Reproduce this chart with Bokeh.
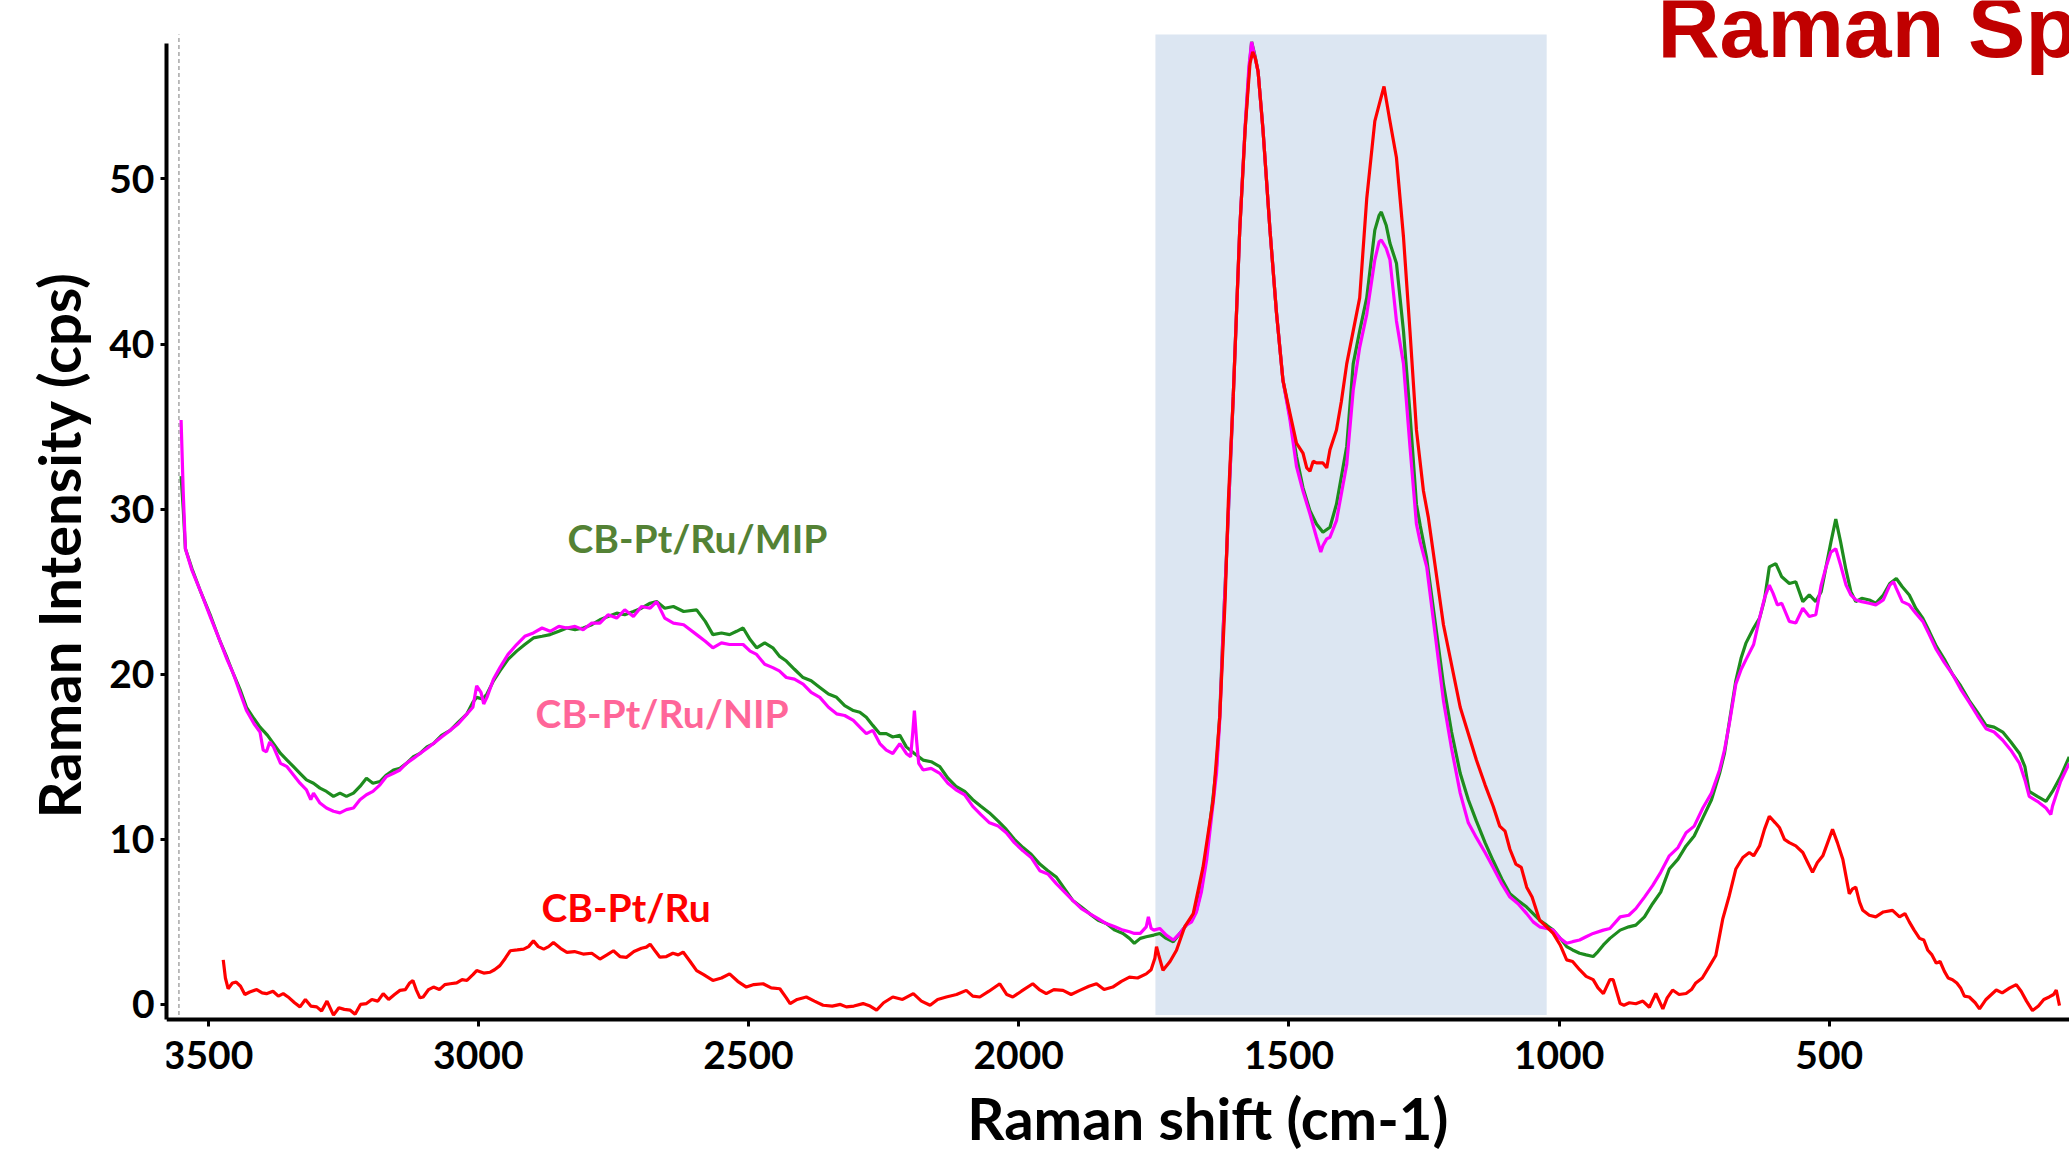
import math
from bokeh.plotting import figure
from bokeh.models import Range1d, FixedTicker, BoxAnnotation, Label, Title
from bokeh.embed import file_html
from bokeh.resources import INLINE

# ---------------- data ----------------
x_ticks = [3500, 3000, 2500, 2000, 1500, 1000, 500]
y_ticks = [0, 10, 20, 30, 40, 50]

series_names = ["CB-Pt/Ru/MIP", "CB-Pt/Ru/NIP", "CB-Pt/Ru"]

mip_points = [
    (3550, 32.0), (3546, 30.0), (3542, 27.6), (3530, 26.4), (3515, 25.1), (3495, 23.5), (3478, 22.0),
    (3465, 21.0), (3453, 20.0), (3440, 19.0), (3429, 18.0), (3415, 17.3), (3404, 16.8), (3390, 16.3),
    (3379, 15.8), (3366, 15.2), (3354, 14.8), (3342, 14.4), (3330, 14.0), (3318, 13.6), (3305, 13.4),
    (3293, 13.1), (3281, 12.9), (3268, 12.6), (3256, 12.8), (3244, 12.6), (3231, 12.8), (3219, 13.2),
    (3207, 13.7), (3195, 13.4), (3182, 13.5), (3170, 13.9), (3157, 14.2), (3145, 14.3), (3133, 14.6),
    (3120, 15.0), (3108, 15.2), (3095, 15.6), (3083, 15.8), (3068, 16.3), (3052, 16.6), (3037, 17.1),
    (3021, 17.6), (3010, 18.3), (3003, 18.6), (2992, 18.5), (2984, 18.8), (2972, 19.6), (2960, 20.2),
    (2945, 20.9), (2929, 21.4), (2914, 21.8), (2898, 22.2), (2882, 22.3), (2867, 22.4), (2851, 22.6),
    (2836, 22.8), (2821, 22.7), (2806, 22.8), (2790, 23.0), (2775, 23.3), (2760, 23.5), (2744, 23.7),
    (2729, 23.6), (2713, 23.8), (2698, 24.0), (2682, 24.3), (2670, 24.4), (2655, 24.0), (2639, 24.1),
    (2620, 23.8), (2596, 23.9), (2580, 23.2), (2566, 22.4), (2550, 22.5), (2535, 22.4), (2522, 22.6),
    (2510, 22.8), (2497, 22.1), (2485, 21.6), (2470, 21.9), (2455, 21.6), (2443, 21.1), (2430, 20.8),
    (2415, 20.3), (2399, 19.8), (2384, 19.6), (2368, 19.2), (2352, 18.8), (2337, 18.6), (2322, 18.1),
    (2306, 17.8), (2294, 17.7), (2282, 17.4), (2270, 16.9), (2257, 16.4), (2245, 16.4), (2233, 16.2),
    (2220, 16.3), (2208, 15.6), (2193, 15.2), (2177, 14.8), (2162, 14.7), (2146, 14.4), (2131, 13.7),
    (2116, 13.2), (2100, 12.9), (2085, 12.4), (2070, 12.0), (2054, 11.6), (2038, 11.1), (2023, 10.6),
    (2008, 10.0), (1992, 9.5), (1977, 9.1), (1961, 8.5), (1946, 8.1), (1930, 7.7), (1915, 7.0),
    (1900, 6.3), (1884, 5.9), (1869, 5.5), (1853, 5.1), (1838, 4.9), (1822, 4.5), (1807, 4.3),
    (1795, 4.0), (1786, 3.7), (1775, 4.0), (1764, 4.1), (1750, 4.2), (1739, 4.3), (1727, 4.0),
    (1714, 3.8), (1702, 4.3), (1690, 4.8), (1680, 5.2), (1671, 5.7), (1662, 7.0), (1652, 9.4),
    (1643, 11.8), (1634, 14.4), (1628, 17.5), (1622, 22.5), (1615, 27.5), (1603, 36.8), (1591, 46.9),
    (1581, 53.0), (1574, 56.5), (1569, 58.3), (1563, 57.5), (1557, 56.5), (1548, 53.0), (1535, 46.9),
    (1523, 41.9), (1511, 37.8), (1498, 35.6), (1486, 33.2), (1474, 31.3), (1461, 29.9), (1449, 29.1),
    (1437, 28.6), (1424, 28.9), (1412, 30.3), (1393, 33.8), (1381, 38.8), (1369, 40.8), (1356, 42.8),
    (1341, 46.9), (1333, 47.8), (1329, 48.0), (1320, 47.2), (1313, 46.1), (1301, 44.9), (1288, 40.8),
    (1276, 35.8), (1264, 30.3), (1257, 29.0), (1245, 27.0), (1214, 19.4), (1199, 16.5), (1183, 14.0),
    (1168, 12.4), (1153, 11.1), (1137, 9.8), (1122, 8.7), (1106, 7.6), (1091, 6.7), (1076, 6.3),
    (1060, 5.9), (1048, 5.5), (1036, 5.1), (1023, 4.8), (1011, 4.5), (998, 4.0), (986, 3.5),
    (975, 3.3), (962, 3.1), (950, 3.0), (937, 2.9), (928, 3.2), (918, 3.6), (906, 4.0), (887, 4.5),
    (871, 4.7), (858, 4.8), (842, 5.3), (827, 6.1), (812, 6.8), (796, 8.2), (780, 8.8), (765, 9.6),
    (750, 10.2), (734, 11.3), (718, 12.4), (703, 14.0), (694, 15.2), (685, 17.1), (673, 19.6),
    (663, 21.0), (654, 21.9), (640, 22.8), (629, 23.4), (620, 24.5), (611, 26.5), (599, 26.7),
    (588, 25.9), (574, 25.5), (562, 25.6), (549, 24.4), (537, 24.8), (525, 24.4), (515, 25.0),
    (506, 26.5), (497, 28.0), (488, 29.4), (479, 28.0), (469, 26.3), (460, 25.0), (451, 24.4),
    (440, 24.6), (426, 24.5), (414, 24.3), (400, 24.8), (388, 25.5), (376, 25.8), (365, 25.3),
    (352, 24.8), (340, 24.0), (327, 23.4), (315, 22.6), (302, 21.7), (287, 20.9), (272, 20.0),
    (257, 19.3), (241, 18.4), (226, 17.7), (210, 16.9), (195, 16.8), (179, 16.5), (164, 15.9),
    (148, 15.2), (138, 14.4), (130, 12.9), (115, 12.6), (99, 12.3), (87, 12.9), (72, 13.8), (56, 15.0),
]

nip_points = [
    (3550, 35.4), (3546, 31.0), (3542, 27.6), (3530, 26.3), (3515, 25.1), (3495, 23.4), (3478, 22.0),
    (3465, 20.9), (3453, 20.0), (3440, 18.8), (3429, 17.8), (3415, 17.0), (3404, 16.5), (3398, 15.4),
    (3392, 15.3), (3386, 15.9), (3379, 15.6), (3366, 14.6), (3354, 14.4), (3342, 13.9), (3330, 13.4),
    (3318, 13.0), (3310, 12.4), (3305, 12.8), (3293, 12.2), (3281, 11.9), (3268, 11.7), (3256, 11.6),
    (3244, 11.8), (3231, 11.9), (3219, 12.4), (3207, 12.7), (3195, 12.9), (3182, 13.3), (3170, 13.8),
    (3157, 14.0), (3145, 14.2), (3133, 14.6), (3120, 14.9), (3108, 15.2), (3095, 15.5), (3083, 15.8),
    (3068, 16.2), (3052, 16.6), (3037, 17.0), (3021, 17.6), (3010, 18.0), (3003, 19.3), (2995, 18.9),
    (2990, 18.2), (2984, 18.6), (2972, 19.7), (2960, 20.4), (2945, 21.2), (2929, 21.8), (2914, 22.3),
    (2898, 22.5), (2882, 22.8), (2867, 22.6), (2851, 22.9), (2836, 22.8), (2821, 22.9), (2806, 22.7),
    (2790, 23.1), (2775, 23.1), (2760, 23.6), (2744, 23.4), (2729, 23.9), (2713, 23.5), (2698, 24.1),
    (2682, 24.0), (2670, 24.4), (2655, 23.4), (2639, 23.1), (2620, 23.0), (2596, 22.4), (2580, 22.0),
    (2566, 21.6), (2550, 21.9), (2535, 21.8), (2522, 21.8), (2510, 21.8), (2497, 21.4), (2485, 21.2),
    (2470, 20.6), (2455, 20.4), (2443, 20.2), (2430, 19.8), (2415, 19.7), (2399, 19.4), (2384, 18.9),
    (2368, 18.6), (2352, 18.0), (2337, 17.6), (2322, 17.5), (2306, 17.2), (2294, 16.8), (2282, 16.4),
    (2270, 16.6), (2257, 15.8), (2245, 15.4), (2233, 15.2), (2220, 15.8), (2208, 15.2), (2200, 15.0),
    (2196, 16.5), (2193, 17.8), (2189, 16.0), (2185, 14.6), (2177, 14.2), (2162, 14.3), (2146, 14.0),
    (2131, 13.4), (2116, 13.0), (2100, 12.7), (2085, 12.0), (2070, 11.5), (2054, 11.0), (2038, 10.8),
    (2023, 10.4), (2008, 9.8), (1992, 9.3), (1977, 8.9), (1961, 8.1), (1946, 7.9), (1930, 7.3),
    (1915, 6.8), (1900, 6.3), (1884, 5.8), (1869, 5.5), (1853, 5.2), (1838, 4.9), (1822, 4.7),
    (1807, 4.5), (1795, 4.4), (1786, 4.3), (1775, 4.3), (1764, 4.7), (1760, 5.3), (1755, 4.6),
    (1750, 4.5), (1739, 4.6), (1727, 4.2), (1714, 3.9), (1702, 4.3), (1690, 4.8), (1680, 5.0),
    (1671, 5.6), (1662, 6.8), (1652, 8.8), (1643, 11.4), (1634, 14.0), (1628, 17.2), (1622, 22.3),
    (1615, 27.5), (1603, 36.8), (1591, 46.9), (1581, 53.2), (1574, 56.8), (1569, 58.3), (1563, 57.4),
    (1557, 56.5), (1548, 53.0), (1535, 46.9), (1523, 41.9), (1511, 37.8), (1498, 35.4), (1486, 32.6),
    (1474, 31.1), (1461, 29.7), (1449, 28.3), (1441, 27.4), (1437, 27.8), (1430, 28.2), (1424, 28.3),
    (1412, 29.3), (1393, 32.7), (1381, 37.2), (1369, 39.8), (1356, 41.8), (1341, 45.1), (1333, 46.2),
    (1329, 46.3), (1320, 45.8), (1313, 45.1), (1301, 41.4), (1288, 38.8), (1276, 33.8), (1264, 29.1),
    (1257, 28.0), (1245, 26.5), (1214, 18.4), (1199, 15.5), (1183, 12.8), (1168, 11.0), (1153, 10.1),
    (1137, 9.2), (1122, 8.3), (1106, 7.3), (1091, 6.5), (1076, 6.1), (1060, 5.5), (1048, 5.0),
    (1036, 4.7), (1023, 4.6), (1011, 4.5), (998, 4.0), (986, 3.7), (975, 3.8), (962, 3.9), (950, 4.1),
    (937, 4.3), (918, 4.5), (906, 4.6), (887, 5.3), (871, 5.4), (858, 5.8), (842, 6.5), (827, 7.2),
    (812, 8.0), (796, 9.0), (780, 9.5), (765, 10.4), (750, 10.8), (734, 11.9), (718, 12.8), (703, 14.2),
    (694, 15.4), (685, 17.0), (673, 19.4), (663, 20.3), (654, 20.9), (640, 21.8), (629, 23.4),
    (620, 24.6), (611, 25.4), (604, 24.9), (596, 24.2), (588, 24.3), (574, 23.2), (562, 23.1),
    (549, 24.0), (537, 23.5), (525, 23.6), (515, 25.4), (506, 26.5), (497, 27.4), (488, 27.6),
    (479, 26.6), (469, 25.4), (460, 24.8), (451, 24.5), (440, 24.4), (426, 24.3), (414, 24.2),
    (400, 24.5), (388, 25.4), (381, 25.6), (376, 25.2), (365, 24.4), (352, 24.2), (340, 23.7),
    (327, 23.2), (315, 22.4), (302, 21.5), (287, 20.7), (272, 20.0), (257, 19.1), (241, 18.3),
    (226, 17.5), (210, 16.7), (195, 16.5), (179, 16.0), (164, 15.4), (148, 14.6), (138, 13.6),
    (130, 12.6), (115, 12.3), (99, 11.9), (90, 11.5), (87, 12.0), (72, 13.5), (56, 14.6),
]

ptru_points = [
    (3472, 2.7), (3468, 1.6), (3463, 0.95), (3455, 1.3), (3448, 1.35), (3440, 1.1), (3432, 0.6),
    (3423, 0.75), (3410, 0.9), (3400, 0.7), (3392, 0.65), (3380, 0.8), (3370, 0.5), (3361, 0.65),
    (3350, 0.4), (3340, 0.1), (3330, -0.15), (3320, 0.3), (3310, -0.1), (3299, -0.15), (3290, -0.4),
    (3280, 0.2), (3268, -0.65), (3258, -0.2), (3248, -0.3), (3237, -0.35), (3228, -0.6), (3218, 0.0),
    (3207, 0.05), (3197, 0.3), (3186, 0.2), (3176, 0.65), (3166, 0.3), (3155, 0.6), (3145, 0.85),
    (3135, 0.9), (3127, 1.3), (3121, 1.45), (3115, 0.9), (3108, 0.4), (3102, 0.45), (3092, 0.9),
    (3083, 1.05), (3072, 0.9), (3062, 1.2), (3052, 1.25), (3040, 1.3), (3030, 1.5), (3021, 1.45),
    (3010, 1.8), (3003, 2.05), (2990, 1.9), (2978, 1.95), (2970, 2.1), (2960, 2.35), (2950, 2.8),
    (2941, 3.25), (2928, 3.3), (2916, 3.35), (2907, 3.5), (2898, 3.85), (2889, 3.5), (2879, 3.35),
    (2870, 3.5), (2861, 3.75), (2848, 3.4), (2836, 3.15), (2822, 3.2), (2806, 3.05), (2790, 3.1),
    (2775, 2.75), (2762, 3.0), (2750, 3.25), (2738, 2.9), (2726, 2.85), (2712, 3.2), (2698, 3.4),
    (2689, 3.47), (2682, 3.65), (2672, 3.2), (2664, 2.86), (2652, 2.9), (2640, 3.1), (2630, 3.0),
    (2621, 3.17), (2608, 2.6), (2596, 2.05), (2583, 1.8), (2566, 1.45), (2550, 1.6), (2535, 1.85),
    (2520, 1.4), (2504, 1.05), (2490, 1.2), (2473, 1.25), (2458, 1.0), (2442, 0.95), (2430, 0.4),
    (2423, 0.05), (2410, 0.3), (2393, 0.45), (2378, 0.2), (2362, -0.05), (2345, -0.1), (2330, 0.0),
    (2319, -0.15), (2305, -0.1), (2288, 0.05), (2275, -0.1), (2263, -0.35), (2250, 0.1), (2233, 0.45),
    (2215, 0.3), (2195, 0.65), (2180, 0.2), (2164, -0.05), (2150, 0.3), (2134, 0.45), (2115, 0.6),
    (2097, 0.85), (2085, 0.5), (2072, 0.45), (2055, 0.8), (2035, 1.25), (2022, 0.6), (2011, 0.45),
    (1995, 0.8), (1974, 1.25), (1962, 0.9), (1949, 0.65), (1935, 0.9), (1918, 0.85), (1903, 0.6),
    (1887, 0.85), (1870, 1.1), (1856, 1.25), (1842, 0.9), (1826, 1.05), (1810, 1.4), (1795, 1.65),
    (1780, 1.6), (1764, 1.85), (1755, 2.1), (1748, 2.8), (1745, 3.5), (1741, 3.0), (1733, 2.07),
    (1720, 2.6), (1708, 3.28), (1693, 4.69), (1677, 5.5), (1659, 8.3), (1640, 12.4), (1628, 17.4),
    (1618, 24.5), (1612, 30.5), (1603, 36.8), (1591, 46.9), (1581, 53.0), (1572, 57.0), (1567, 57.7),
    (1562, 57.3), (1557, 56.5), (1548, 53.0), (1535, 46.9), (1523, 41.9), (1511, 37.8), (1498, 35.8),
    (1486, 34.0), (1474, 33.4), (1467, 32.5), (1461, 32.3), (1455, 32.9), (1449, 32.8), (1437, 32.8),
    (1430, 32.5), (1424, 33.6), (1412, 34.8), (1403, 36.5), (1393, 38.8), (1381, 40.8), (1369, 42.8),
    (1356, 48.8), (1341, 53.5), (1333, 54.5), (1324, 55.6), (1313, 53.5), (1301, 51.3), (1288, 46.5),
    (1276, 40.8), (1264, 34.8), (1251, 31.1), (1242, 29.5), (1214, 23.0), (1183, 18.0), (1153, 14.8),
    (1137, 13.3), (1122, 12.0), (1110, 10.8), (1100, 10.5), (1091, 9.4), (1080, 8.5), (1070, 8.3),
    (1060, 7.1), (1050, 6.5), (1036, 5.1), (1023, 4.7), (1011, 4.3), (998, 3.6), (986, 2.7),
    (975, 2.6), (962, 2.1), (950, 1.7), (937, 1.5), (928, 1.0), (918, 0.65), (906, 1.5), (900, 1.5),
    (887, 0.05), (880, -0.05), (870, 0.1), (858, 0.04), (845, 0.2), (833, -0.17), (821, 0.66),
    (808, -0.27), (800, 0.4), (790, 0.87), (778, 0.6), (765, 0.66), (755, 0.9), (747, 1.3),
    (735, 1.6), (722, 2.3), (710, 2.96), (697, 5.2), (685, 6.6), (673, 8.2), (660, 8.9), (648, 9.2),
    (640, 9.0), (629, 9.6), (620, 10.6), (611, 11.4), (600, 11.0), (592, 10.7), (583, 10.0),
    (574, 9.8), (562, 9.6), (549, 9.2), (540, 8.6), (531, 8.0), (522, 8.6), (512, 9.0), (503, 9.8),
    (494, 10.6), (485, 9.8), (475, 8.8), (463, 6.7), (457, 7.0), (451, 7.1), (444, 6.2), (438, 5.7),
    (426, 5.4), (414, 5.3), (400, 5.6), (383, 5.7), (370, 5.3), (360, 5.5), (352, 5.0), (343, 4.5),
    (333, 4.0), (325, 3.9), (318, 3.3), (310, 3.0), (302, 2.5), (295, 2.6), (287, 2.0), (280, 1.6),
    (272, 1.5), (264, 1.3), (257, 1.0), (250, 0.5), (241, 0.45), (230, 0.1), (222, -0.27),
    (210, 0.3), (200, 0.6), (191, 0.87), (180, 0.7), (166, 1.0), (154, 1.2), (145, 0.8), (135, 0.2),
    (124, -0.37), (113, -0.1), (103, 0.3), (93, 0.45), (85, 0.6), (80, 0.87), (77, 0.4), (74, -0.07),
]

mip_x, mip_y = [p[0] for p in mip_points], [p[1] for p in mip_points]
nip_x, nip_y = [p[0] for p in nip_points], [p[1] for p in nip_points]
ptru_x, ptru_y = [p[0] for p in ptru_points], [p[1] for p in ptru_points]

# highlighted band (G/D region) and reference marker
band_left, band_right, band_bottom, band_top = 1747, 1023, -0.64, 58.75
marker_shift = 3554
axis_floor = -0.91      # where the x axis sits
axis_top = 58.2         # top end of the y axis line

# ---------------- figure ----------------
FONT = "Lato"
p = figure(width=2069, height=1152,
           x_range=Range1d(3577, 55.5), y_range=Range1d(-8.97, 60.81),
           output_backend="svg", toolbar_location=None,
           min_border_left=166, min_border_right=0,
           min_border_top=0, min_border_bottom=0)
p.outline_line_color = None
p.grid.visible = False
p.background_fill_color = "white"
p.border_fill_color = "white"

band = BoxAnnotation(left=band_left, right=band_right, bottom=band_bottom, top=band_top,
                     fill_color="#DCE6F2", fill_alpha=1.0, line_color=None, level="underlay")
p.add_layout(band)

p.segment(x0=[marker_shift], y0=[band_bottom], x1=[marker_shift], y1=[band_top],
          line_color="#A6A6A6", line_width=1.5, line_dash="4 3")

p.line(mip_x, mip_y, line_color="#1E8C1E", line_width=3.2)
p.line(nip_x, nip_y, line_color="#FF00FF", line_width=3.2)
p.line(ptru_x, ptru_y, line_color="#FF0000", line_width=3.2)

for ax in (p.xaxis[0], p.yaxis[0]):
    ax.axis_line_width = 4
    ax.axis_line_color = "black"
    ax.major_tick_line_width = 3
    ax.major_tick_line_color = "black"
    ax.major_tick_in = 0
    ax.minor_tick_line_color = None
    ax.major_label_text_font = FONT
    ax.major_label_text_font_style = "bold"
    ax.major_label_text_font_size = "39px"
    ax.major_label_text_color = "black"

p.xaxis.ticker = FixedTicker(ticks=x_ticks)
p.xaxis.fixed_location = axis_floor
p.xaxis.major_tick_out = 7
p.xaxis.major_label_standoff = 15
p.yaxis.ticker = FixedTicker(ticks=y_ticks)
p.yaxis.major_tick_out = 6
p.yaxis.major_label_standoff = 6
p.yaxis.bounds = (axis_floor, axis_top)

# y axis title in the left side panel
p.add_layout(Title(text="Raman Intensity (cps)", align="left", offset=334,
                   vertical_align="bottom", standoff=28,
                   text_font=FONT, text_font_style="bold", text_font_size="58px",
                   text_color="black"), "left")

# x axis title (below the axis, inside the canvas)
p.add_layout(Label(x=1650, y=-6.85, text="Raman shift (cm-1)",
                   text_font=FONT, text_font_style="bold", text_font_size="58px",
                   text_color="black", text_align="center", text_baseline="alphabetic"))

# series labels
label_specs = [
    (series_names[0], 2835, 28.25, "#548235"),
    (series_names[1], 2894, 17.65, "#FF6699"),
    (series_names[2], 2883, 5.90, "#FF0000"),
]
for txt, lx, ly, col in label_specs:
    p.add_layout(Label(x=lx, y=ly, text=txt, text_color=col, text_font=FONT,
                       text_font_style="bold", text_font_size="39px",
                       text_align="left", text_baseline="alphabetic"))

# chart title (runs off the right edge as in the source)
p.add_layout(Label(x=818, y=59.18, text="Raman Spectra",
                   text_font="Liberation Sans", text_font_style="bold", text_font_size="86px",
                   text_color="#C00000", text_align="left", text_baseline="alphabetic"))

open("out.html", "w").write(file_html(p, INLINE))
